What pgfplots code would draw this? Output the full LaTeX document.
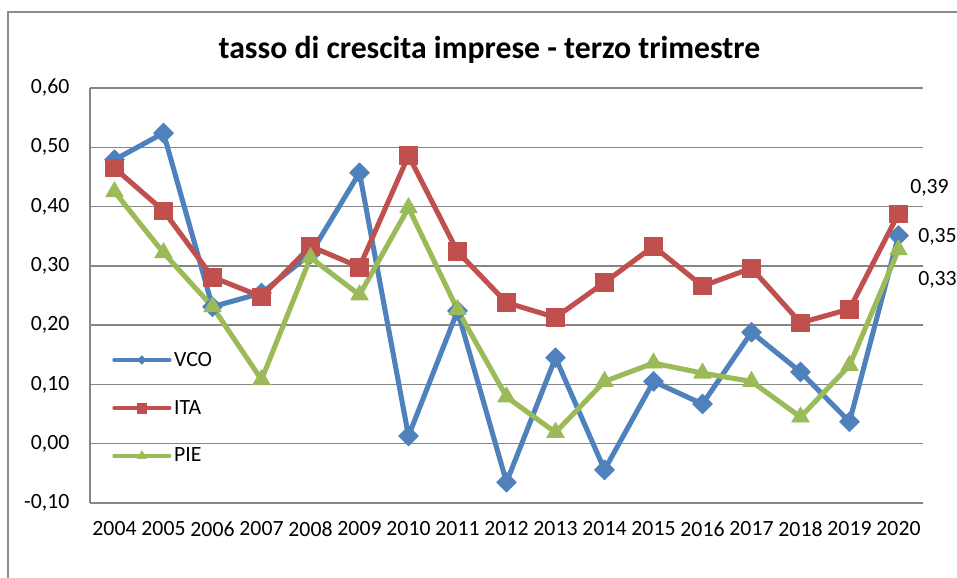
\documentclass[border=0pt]{standalone}
\usepackage{fontspec}
\setmainfont{Carlito}
\usepackage{pgfplots}
\pgfplotsset{compat=1.18}
\definecolor{vco}{HTML}{4F81BD}
\definecolor{ita}{HTML}{C0504D}
\definecolor{pie}{HTML}{9BBB59}
\definecolor{gridc}{HTML}{868686}
\definecolor{framec}{HTML}{8C8C8C}
\begin{document}
\begin{tikzpicture}[x=0.75pt,y=0.75pt]
\useasboundingbox (0,0) rectangle (957,578);
\draw[framec, line width=0.9pt] (8,-20) -- (8,566) -- (980,566);
\node[font=\fontsize{23.8}{28}\selectfont\bfseries] at (489.5,528) {tasso di crescita imprese - terzo trimestre};
\begin{axis}[
  at={(67.5pt,56.25pt)}, anchor=south west, scale only axis,
  width=624.75pt, height=311.25pt,
  xmin=-0.5, xmax=16.5, ymin=-0.1, ymax=0.6,
  xtick={0,1,2,3,4,5,6,7,8,9,10,11,12,13,14,15,16},
  xticklabels={2004,2005,2006,2007,2008,2009,2010,2011,2012,2013,2014,2015,2016,2017,2018,2019,2020},
  ytick={-0.1,0,0.1,0.2,0.3,0.4,0.5,0.6},
  /pgf/number format/.cd, fixed, fixed zerofill, precision=2, use comma, assume math mode=true,
  /pgfplots/.cd,
  ticklabel style={font=\fontsize{16.3}{19}\selectfont},
  xticklabel style={yshift=-10.5pt},
  yticklabel style={xshift=-12pt},
  major tick length=0pt,
  ymajorgrids, grid style={gridc, line width=1pt},
  axis x line*=bottom, axis y line*=left,
  axis line style={gridc, line width=1pt, -},
  x axis line style={-}, y axis line style={-},
  legend style={draw=none, fill=none, at={(0.0264,0.229)}, anchor=west,
    font=\fontsize{16.3}{19}\selectfont, inner xsep=0pt, inner ysep=0pt,
    row sep=20pt, nodes={inner sep=2pt}},
  legend cell align=left,
  legend image code/.code={\draw[mark repeat=2,mark phase=2,#1] plot coordinates {(0pt,0pt) (20.6pt,0pt) (41.25pt,0pt)};},
  every axis plot/.append style={line width=3.8pt, line join=round, line cap=round},
]
\addplot[vco, mark=square*, mark size=5.3pt, mark options={rotate=45, solid, line width=0.5pt},
  legend image post style={mark size=2.3pt, line width=3.2pt}] coordinates {
(0,0.479) (1,0.524) (2,0.231) (3,0.254) (4,0.32) (5,0.457) (6,0.013) (7,0.224) (8,-0.065)
(9,0.145) (10,-0.044) (11,0.105) (12,0.067) (13,0.188) (14,0.121) (15,0.037) (16,0.351)};
\addlegendentry{VCO}
\addplot[ita, mark=square*, mark size=6.6pt, mark options={solid, line width=0.5pt},
  legend image post style={mark size=3.6pt, line width=3.2pt}] coordinates {
(0,0.465) (1,0.393) (2,0.281) (3,0.248) (4,0.333) (5,0.298) (6,0.486) (7,0.324) (8,0.238)
(9,0.213) (10,0.272) (11,0.333) (12,0.266) (13,0.296) (14,0.204) (15,0.227) (16,0.388)};
\addlegendentry{ITA}
\addplot[pie, mark=triangle*, mark size=7.6pt, mark options={solid, line width=0.5pt},
  legend image post style={mark size=4pt, line width=3.2pt}] coordinates {
(0,0.425) (1,0.322) (2,0.231) (3,0.108) (4,0.314) (5,0.251) (6,0.398) (7,0.226) (8,0.079)
(9,0.019) (10,0.105) (11,0.136) (12,0.119) (13,0.105) (14,0.045) (15,0.132) (16,0.327)};
\addlegendentry{PIE}
\end{axis}
\node[anchor=west, inner sep=0pt, font=\fontsize{16.3}{19}\selectfont] at (910,390) {0,39};
\node[anchor=west, inner sep=0pt, font=\fontsize{16.3}{19}\selectfont] at (918,341) {0,35};
\node[anchor=west, inner sep=0pt, font=\fontsize{16.3}{19}\selectfont] at (918,298) {0,33};
\end{tikzpicture}
\end{document}
